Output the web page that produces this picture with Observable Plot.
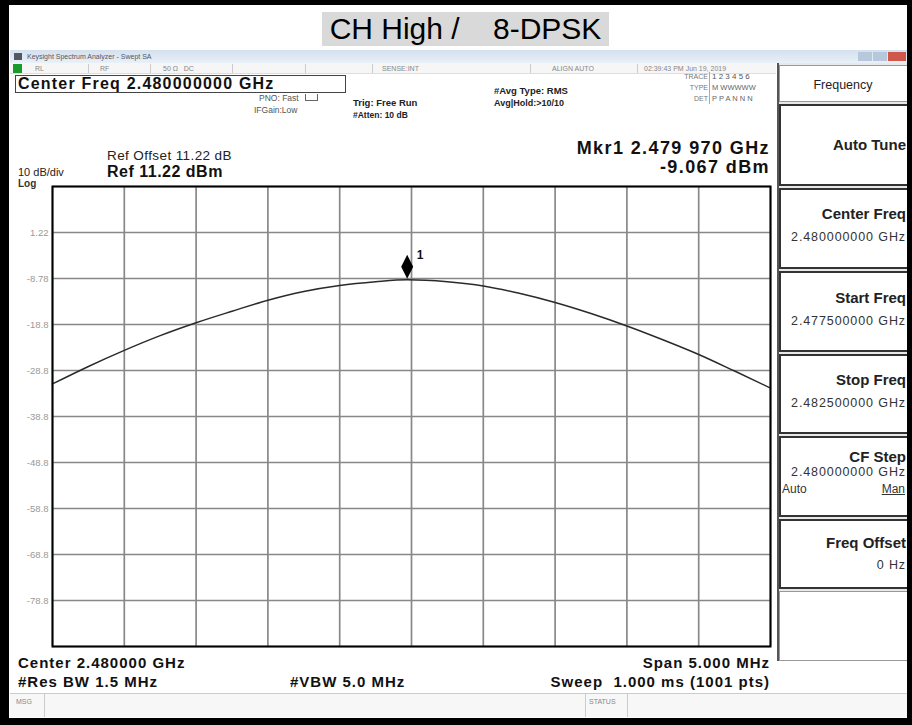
<!DOCTYPE html>
<html><head><meta charset="utf-8">
<script src="https://cdn.jsdelivr.net/npm/d3@7"></script>
<script src="https://cdn.jsdelivr.net/npm/@observablehq/plot@0.6"></script>
<style>
body{margin:0;background:#fff;font-family:"Liberation Sans",Arial,sans-serif;}
#page{position:relative;width:912px;height:725px;overflow:hidden;background:#fff;}
.a{position:absolute;white-space:pre;line-height:1;}
.b{font-weight:bold;}
.box{position:absolute;box-sizing:border-box;}
.btn{position:absolute;left:779px;width:130px;box-sizing:border-box;border:2px solid #333;border-right:none;background:#fff;}
.lbl{position:absolute;right:3px;font-weight:bold;font-size:15px;color:#222;white-space:pre;line-height:1;}
.val{position:absolute;right:3px;font-size:12.5px;letter-spacing:0.9px;color:#333;white-space:pre;line-height:1;}
.tiny{font-size:7px;color:#888;}
#chart{position:absolute;left:0;top:180px;}
</style></head>
<body><div id="page">
  <!-- title -->
  <div class="box" style="left:322px;top:12px;width:287px;height:34px;background:#d9d9d9;"></div>
  <div class="a" style="left:322px;width:287px;top:14px;font-size:30px;text-align:center;color:#000;">CH High /    8-DPSK</div>
  <!-- window title bar -->
  <div class="box" style="left:10px;top:50px;width:898px;height:13px;background:linear-gradient(#d3e0ee,#e9f0f8);"></div>
  <div class="box" style="left:14px;top:53px;width:8px;height:7px;background:#556;"></div>
  <div class="a tiny" style="left:27px;top:53px;color:#556;">Keysight Spectrum Analyzer - Swept SA</div>
  <div class="box" style="left:858px;top:52px;width:14px;height:9px;background:#b8c8dc;"></div>
  <div class="box" style="left:873px;top:52px;width:14px;height:9px;background:#b8c8dc;"></div>
  <div class="box" style="left:888px;top:52px;width:18px;height:9px;background:#d0584a;"></div>
  <!-- status row -->
  <div class="box" style="left:10px;top:63px;width:766px;height:11px;background:#f6f6f6;border-bottom:1px solid #ddd;"></div>
  <div class="box" style="left:13px;top:64px;width:9px;height:9px;background:#1a9a2a;"></div>
  <div class="box" style="left:88px;top:64px;width:1px;height:9px;background:#ccc;"></div>
  <div class="box" style="left:150px;top:64px;width:1px;height:9px;background:#ccc;"></div>
  <div class="box" style="left:232px;top:64px;width:1px;height:9px;background:#ccc;"></div>
  <div class="box" style="left:305px;top:64px;width:1px;height:9px;background:#ccc;"></div>
  <div class="box" style="left:372px;top:64px;width:1px;height:9px;background:#ccc;"></div>
  <div class="box" style="left:530px;top:64px;width:1px;height:9px;background:#ccc;"></div>
  <div class="box" style="left:637px;top:64px;width:1px;height:9px;background:#ccc;"></div>
  <div class="a tiny" style="left:35px;top:65px;">RL</div>
  <div class="a tiny" style="left:100px;top:65px;">RF</div>
  <div class="a tiny" style="left:163px;top:65px;">50 Ω   DC</div>
  <div class="a tiny" style="left:382px;top:65px;">SENSE:INT</div>
  <div class="a tiny" style="left:552px;top:65px;">ALIGN AUTO</div>
  <div class="a tiny" style="left:644px;top:65px;">02:39:43 PM Jun 19, 2019</div>
  <!-- header texts -->
  <div class="box" style="left:15px;top:75px;width:331px;height:18px;border:1px solid #444;"></div>
  <div class="a b" style="left:18px;top:76px;font-size:16px;letter-spacing:1.2px;color:#111;">Center Freq 2.480000000 GHz</div>
  <div class="a" style="left:259px;top:94px;font-size:8.5px;color:#555;">PNO: Fast</div>
  <div class="box" style="left:305px;top:94px;width:13px;height:7px;border:1px solid #666;border-top:none;"></div>
  <div class="a" style="left:254px;top:106px;font-size:8.5px;color:#555;">IFGain:Low</div>
  <div class="a b" style="left:353px;top:98px;font-size:9.5px;color:#222;">Trig: Free Run</div>
  <div class="a b" style="left:353px;top:111px;font-size:8.5px;color:#222;">#Atten: 10 dB</div>
  <div class="a b" style="left:494px;top:86px;font-size:9.5px;color:#222;">#Avg Type: RMS</div>
  <div class="a b" style="left:494px;top:99px;font-size:9px;color:#222;">Avg|Hold:&gt;10/10</div>
  <div class="a" style="left:660px;width:48px;text-align:right;top:73px;font-size:7px;color:#777;">TRACE</div>
  <div class="a" style="left:660px;width:48px;text-align:right;top:84px;font-size:7px;color:#777;">TYPE</div>
  <div class="a" style="left:660px;width:48px;text-align:right;top:95px;font-size:7px;color:#777;">DET</div>
  <div class="box" style="left:709px;top:72px;width:1px;height:32px;background:#aaa;"></div>
  <div class="a" style="left:712px;top:73px;font-size:8px;color:#555;">1 2 3 4 5 6</div>
  <div class="a" style="left:712px;top:84px;font-size:7.5px;color:#666;">M WWWWW</div>
  <div class="a" style="left:712px;top:95px;font-size:7.5px;color:#666;">P P A N N N</div>
  <div class="a b" style="right:142px;top:139px;font-size:18px;letter-spacing:1.4px;color:#111;">Mkr1 2.479 970 GHz</div>
  <div class="a b" style="right:142px;top:158px;font-size:18px;letter-spacing:1.4px;color:#111;">-9.067 dBm</div>
  <div class="a" style="left:107px;top:149px;font-size:13.5px;letter-spacing:0.4px;color:#222;">Ref Offset 11.22 dB</div>
  <div class="a b" style="left:107px;top:164px;font-size:16px;letter-spacing:0.5px;color:#111;">Ref 11.22 dBm</div>
  <div class="a" style="left:18px;top:167px;font-size:11px;color:#222;">10 dB/div</div>
  <div class="a b" style="left:18px;top:179px;font-size:10px;color:#333;">Log</div>
  <!-- footer texts -->
  <div class="a b" style="left:18px;top:655px;font-size:15px;letter-spacing:1px;color:#111;">Center 2.480000 GHz</div>
  <div class="a b" style="right:142px;top:655px;font-size:15px;letter-spacing:1px;color:#111;">Span 5.000 MHz</div>
  <div class="a b" style="left:18px;top:674px;font-size:15px;letter-spacing:1px;color:#111;">#Res BW 1.5 MHz</div>
  <div class="a b" style="left:290px;top:674px;font-size:15px;letter-spacing:1px;color:#111;">#VBW 5.0 MHz</div>
  <div class="a b" style="right:142px;top:674px;font-size:15px;letter-spacing:1px;color:#111;">Sweep  1.000 ms (1001 pts)</div>
  <div class="box" style="left:10px;top:693px;width:898px;height:24px;background:#f7f7f7;border-top:1px solid #ccc;"></div>
  <div class="box" style="left:44px;top:694px;width:1px;height:23px;background:#ccc;"></div>
  <div class="box" style="left:585px;top:694px;width:1px;height:23px;background:#ccc;"></div>
  <div class="box" style="left:627px;top:694px;width:1px;height:23px;background:#ccc;"></div>
  <div class="a tiny" style="left:16px;top:698px;">MSG</div>
  <div class="a tiny" style="left:589px;top:698px;">STATUS</div>
  <!-- right panel -->
  <div class="box" style="left:777px;top:63px;width:2px;height:598px;background:#555;"></div>
  <div class="box" style="left:779px;top:63px;width:130px;height:598px;background:#e8e8e8;"></div>
  <div class="btn" style="top:65px;height:37px;border:1px solid #999;border-right:none;"><div class="a" style="left:0;width:126px;text-align:center;top:13px;font-size:12.5px;color:#222;">Frequency</div></div>
  <div class="btn" style="top:104px;height:82px;"><div class="lbl" style="top:31px;">Auto Tune</div></div>
  <div class="btn" style="top:188px;height:81px;"><div class="lbl" style="top:16px;">Center Freq</div><div class="val" style="top:41px;">2.480000000 GHz</div></div>
  <div class="btn" style="top:271px;height:81px;"><div class="lbl" style="top:17px;">Start Freq</div><div class="val" style="top:42px;">2.477500000 GHz</div></div>
  <div class="btn" style="top:354px;height:80px;"><div class="lbl" style="top:16px;">Stop Freq</div><div class="val" style="top:41px;">2.482500000 GHz</div></div>
  <div class="btn" style="top:436px;height:81px;"><div class="lbl" style="top:11px;">CF Step</div><div class="val" style="top:28px;">2.480000000 GHz</div><div class="a" style="left:1px;top:45px;font-size:12px;color:#333;">Auto</div><div class="a" style="right:4px;top:45px;font-size:12px;color:#333;text-decoration:underline;">Man</div></div>
  <div class="btn" style="top:519px;height:70px;"><div class="lbl" style="top:14px;">Freq Offset</div><div class="val" style="top:38px;">0 Hz</div></div>
  <div class="btn" style="top:591px;height:70px;border:1px solid #999;border-right:none;"></div>
  <!-- outer black frame -->
  <div class="box" style="left:0;top:0;width:912px;height:725px;border-style:solid;border-color:#000;border-width:5px 5px 7px 9px;"></div>
  <div id="chart"></div>
</div>
<script>
// Trace: frequency offset from 2.480000 GHz centre (MHz) and level (dBm)
const offsetMHz = [-2.5,-2.25,-2.0,-1.75,-1.5,-1.25,-1.0,-0.75,-0.5,-0.25,-0.03,0.25,0.5,0.75,1.0,1.25,1.5,1.75,2.0,2.25,2.5];
const levelDBm  = [-31.7,-27.9,-24.4,-21.2,-18.4,-15.9,-13.5,-11.6,-10.3,-9.5,-9.07,-9.5,-10.4,-12.0,-14.0,-16.4,-19.1,-22.1,-25.3,-28.9,-32.6];
// Marker 1
const markerMHz = [-0.03];
const markerDBm = [-9.067];
const markerName = ["1"];
// Graticule
const xGridMHz = [-2.5,-2.0,-1.5,-1.0,-0.5,0,0.5,1.0,1.5,2.0,2.5];
const yGridDBm = [11.22,1.22,-8.78,-18.78,-28.78,-38.78,-48.78,-58.78,-68.78,-78.78,-88.78];
const yTickDBm = [1.22,-8.78,-18.78,-28.78,-38.78,-48.78,-58.78,-68.78,-78.78];
const yTickLabels = ["1.22","-8.78","-18.8","-28.8","-38.8","-48.8","-58.8","-68.8","-78.8"];

const trace = offsetMHz.map((f,i)=>({f, dbm: levelDBm[i]}));
const marker = markerMHz.map((f,i)=>({f, dbm: markerDBm[i], name: markerName[i]}));
const ticks = yTickDBm.map((v,i)=>({v, label: yTickLabels[i]}));

const tallDiamond = {draw(ctx, size){ const w = Math.sqrt(size)/2; ctx.moveTo(0,-2*w); ctx.lineTo(w,0); ctx.lineTo(0,2*w); ctx.lineTo(-w,0); ctx.closePath(); }};

const chart = Plot.plot({
  width: 780, height: 475,
  marginLeft: 52, marginRight: 10, marginTop: 6, marginBottom: 9,
  style: {background: "transparent", fontFamily: "Liberation Sans, Arial, sans-serif"},
  x: {domain: [-2.5, 2.5], axis: null},
  y: {domain: [-88.78, 11.22], axis: null},
  marks: [
    Plot.ruleX(xGridMHz, {stroke: "#888", strokeWidth: 1.7}),
    Plot.ruleY(yGridDBm, {stroke: "#888", strokeWidth: 1.7}),
    Plot.text(ticks, {x: -2.5, y: "v", text: "label", textAnchor: "end", dx: -4, fill: "#999", fontSize: 9.5}),
    Plot.line(trace, {x: "f", y: "dbm", stroke: "#2a2a2a", strokeWidth: 1.5, curve: "monotone-x"}),
    Plot.dot(marker, {x: "f", y: "dbm", symbol: tallDiamond, r: 6.8, fill: "#000", stroke: "none", dy: -13}),
    Plot.text(marker, {x: "f", y: "dbm", text: "name", dx: 13, dy: -25, fontSize: 12, fontWeight: "bold", fill: "#111"}),
    Plot.frame({stroke: "#000", strokeWidth: 2})
  ]
});
document.getElementById("chart").appendChild(chart);
</script>
</body></html>
